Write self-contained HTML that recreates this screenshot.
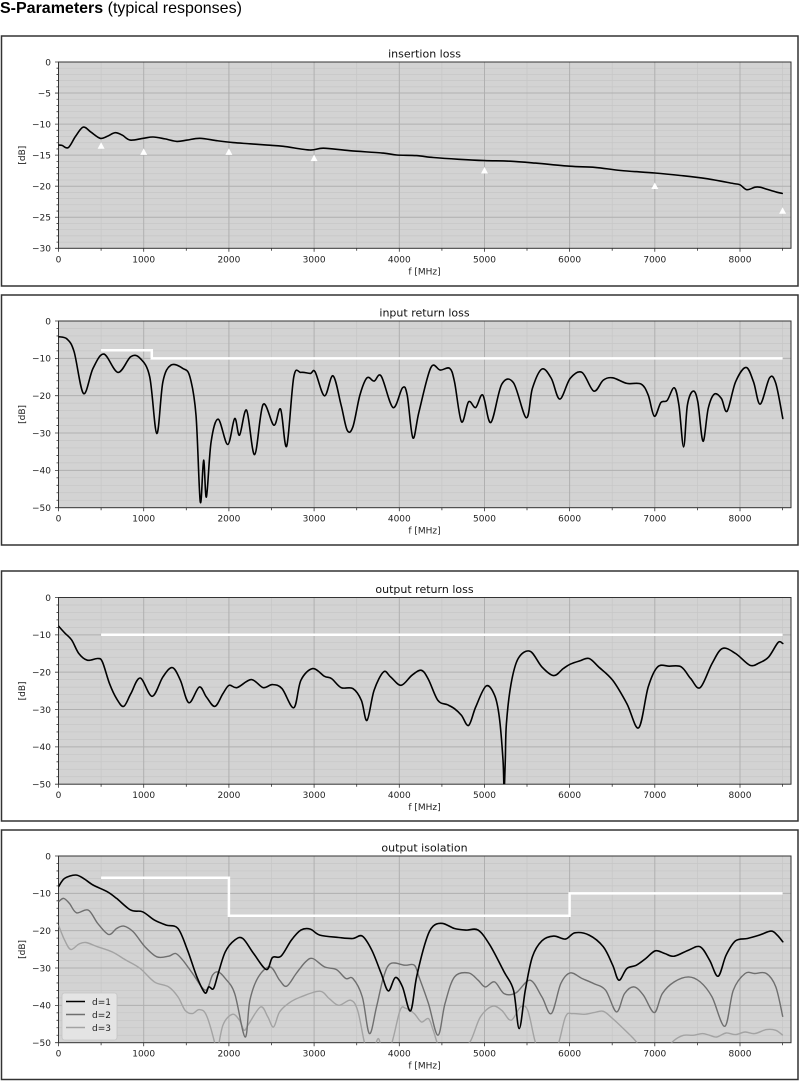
<!DOCTYPE html>
<html><head><meta charset="utf-8">
<style>
html,body{margin:0;padding:0;background:#fff;width:800px;height:1081px;overflow:hidden}
svg{display:block}
.t{font-family:"DejaVu Sans","Liberation Sans",sans-serif;font-size:9px;fill:#222}
.ti{font-family:"DejaVu Sans","Liberation Sans",sans-serif;font-size:11px;fill:#111}
.k{fill:none;stroke:#000;stroke-width:1.6;stroke-linejoin:round;stroke-linecap:round}
.w{fill:none;stroke:#fff;stroke-width:2.5}
.d2{fill:none;stroke:#6f6f6f;stroke-width:1.4;stroke-linejoin:round}
.d3{fill:none;stroke:#a3a3a3;stroke-width:1.4;stroke-linejoin:round}
</style></head>
<body>
<svg width="800" height="1081" viewBox="0 0 800 1081" xmlns="http://www.w3.org/2000/svg">
<defs>
<g id="G1">
<rect x="58.5" y="0" width="732.5" height="186.3" fill="#d3d3d3"/>
<path fill="none" stroke="#c6c6c6" stroke-width="0.7" d="M58.5 6.21H791M58.5 12.42H791M58.5 18.63H791M58.5 24.84H791M58.5 37.26H791M58.5 43.47H791M58.5 49.68H791M58.5 55.89H791M58.5 68.31H791M58.5 74.52H791M58.5 80.73H791M58.5 86.94H791M58.5 99.36H791M58.5 105.57H791M58.5 111.78H791M58.5 117.99H791M58.5 130.41H791M58.5 136.62H791M58.5 142.83H791M58.5 149.04H791M58.5 161.46H791M58.5 167.67H791M58.5 173.88H791M58.5 180.09H791M101.1 0V186.3M186.3 0V186.3M271.5 0V186.3M356.7 0V186.3M441.9 0V186.3M527 0V186.3M612.2 0V186.3M697.4 0V186.3M782.6 0V186.3"/>
<path fill="none" stroke="#b0b0b0" stroke-width="1" d="M58.5 31.05H791M58.5 62.1H791M58.5 93.15H791M58.5 124.2H791M58.5 155.25H791M143.7 0V186.3M228.9 0V186.3M314.1 0V186.3M399.3 0V186.3M484.5 0V186.3M569.6 0V186.3M654.8 0V186.3M740 0V186.3"/>
<rect x="58.5" y="0" width="732.5" height="186.3" fill="none" stroke="#333" stroke-width="1"/>
<path fill="none" stroke="#333" stroke-width="0.8" d="M55 0H58.5M55 31.05H58.5M55 62.1H58.5M55 93.15H58.5M55 124.2H58.5M55 155.25H58.5M55 186.3H58.5M56.5 6.21H58.5M56.5 12.42H58.5M56.5 18.63H58.5M56.5 24.84H58.5M56.5 37.26H58.5M56.5 43.47H58.5M56.5 49.68H58.5M56.5 55.89H58.5M56.5 68.31H58.5M56.5 74.52H58.5M56.5 80.73H58.5M56.5 86.94H58.5M56.5 99.36H58.5M56.5 105.57H58.5M56.5 111.78H58.5M56.5 117.99H58.5M56.5 130.41H58.5M56.5 136.62H58.5M56.5 142.83H58.5M56.5 149.04H58.5M56.5 161.46H58.5M56.5 167.67H58.5M56.5 173.88H58.5M56.5 180.09H58.5M58.5 186.3v3.5M143.7 186.3v3.5M228.9 186.3v3.5M314.1 186.3v3.5M399.3 186.3v3.5M484.5 186.3v3.5M569.6 186.3v3.5M654.8 186.3v3.5M740 186.3v3.5M101.1 186.3v2.5M186.3 186.3v2.5M271.5 186.3v2.5M356.7 186.3v2.5M441.9 186.3v2.5M527 186.3v2.5M612.2 186.3v2.5M697.4 186.3v2.5M782.6 186.3v2.5"/>
</g>
<g id="G2">
<rect x="58.5" y="0" width="732.5" height="186.7" fill="#d3d3d3"/>
<path fill="none" stroke="#c6c6c6" stroke-width="0.7" d="M58.5 7.47H791M58.5 14.94H791M58.5 22.4H791M58.5 29.87H791M58.5 44.81H791M58.5 52.28H791M58.5 59.74H791M58.5 67.21H791M58.5 82.15H791M58.5 89.62H791M58.5 97.08H791M58.5 104.55H791M58.5 119.49H791M58.5 126.96H791M58.5 134.42H791M58.5 141.89H791M58.5 156.83H791M58.5 164.3H791M58.5 171.76H791M58.5 179.23H791M101.1 0V186.7M186.3 0V186.7M271.5 0V186.7M356.7 0V186.7M441.9 0V186.7M527 0V186.7M612.2 0V186.7M697.4 0V186.7M782.6 0V186.7"/>
<path fill="none" stroke="#b0b0b0" stroke-width="1" d="M58.5 37.34H791M58.5 74.68H791M58.5 112.02H791M58.5 149.36H791M143.7 0V186.7M228.9 0V186.7M314.1 0V186.7M399.3 0V186.7M484.5 0V186.7M569.6 0V186.7M654.8 0V186.7M740 0V186.7"/>
<rect x="58.5" y="0" width="732.5" height="186.7" fill="none" stroke="#333" stroke-width="1"/>
<path fill="none" stroke="#333" stroke-width="0.8" d="M55 0H58.5M55 37.34H58.5M55 74.68H58.5M55 112.02H58.5M55 149.36H58.5M55 186.7H58.5M56.5 7.47H58.5M56.5 14.94H58.5M56.5 22.4H58.5M56.5 29.87H58.5M56.5 44.81H58.5M56.5 52.28H58.5M56.5 59.74H58.5M56.5 67.21H58.5M56.5 82.15H58.5M56.5 89.62H58.5M56.5 97.08H58.5M56.5 104.55H58.5M56.5 119.49H58.5M56.5 126.96H58.5M56.5 134.42H58.5M56.5 141.89H58.5M56.5 156.83H58.5M56.5 164.3H58.5M56.5 171.76H58.5M56.5 179.23H58.5M58.5 186.7v3.5M143.7 186.7v3.5M228.9 186.7v3.5M314.1 186.7v3.5M399.3 186.7v3.5M484.5 186.7v3.5M569.6 186.7v3.5M654.8 186.7v3.5M740 186.7v3.5M101.1 186.7v2.5M186.3 186.7v2.5M271.5 186.7v2.5M356.7 186.7v2.5M441.9 186.7v2.5M527 186.7v2.5M612.2 186.7v2.5M697.4 186.7v2.5M782.6 186.7v2.5"/>
</g>
<clipPath id="c1"><rect x="58.5" y="62" width="732.5" height="186.3"/></clipPath>
<clipPath id="c2"><rect x="58.5" y="321" width="732.5" height="186.7"/></clipPath>
<clipPath id="c3"><rect x="58.5" y="597.5" width="732.5" height="186.7"/></clipPath>
<clipPath id="c4"><rect x="58.5" y="856" width="732.5" height="186.7"/></clipPath>
</defs>

<!-- Page title -->
<text x="0" y="13" font-family="'Liberation Sans',Arial,sans-serif" font-size="16" fill="#000"><tspan font-weight="bold">S-Parameters</tspan> (typical responses)</text>

<!-- Panel boxes -->
<rect x="1.5" y="36" width="796.5" height="250" fill="none" stroke="#333" stroke-width="1.5"/>
<rect x="1.5" y="295" width="796.5" height="250" fill="none" stroke="#333" stroke-width="1.5"/>
<rect x="1.5" y="571" width="796.5" height="250" fill="none" stroke="#333" stroke-width="1.5"/>
<rect x="1.5" y="830" width="796.5" height="249.5" fill="none" stroke="#333" stroke-width="1.5"/>

<!-- ===== Panel 1: insertion loss ===== -->
<use href="#G1" transform="translate(0,62)"/>
<text class="ti" x="424.5" y="57.5" text-anchor="middle">insertion loss</text>
<g class="t" text-anchor="end">
<text x="51" y="65.3">0</text>
<text x="51" y="96.4">−5</text>
<text x="51" y="127.4">−10</text>
<text x="51" y="158.5">−15</text>
<text x="51" y="189.5">−20</text>
<text x="51" y="220.6">−25</text>
<text x="51" y="251.6">−30</text>
</g>
<g class="t" text-anchor="middle">
<text x="58.5" y="262.3">0</text><text x="143.7" y="262.3">1000</text><text x="228.9" y="262.3">2000</text><text x="314.1" y="262.3">3000</text><text x="399.3" y="262.3">4000</text><text x="484.5" y="262.3">5000</text><text x="569.6" y="262.3">6000</text><text x="654.8" y="262.3">7000</text><text x="740" y="262.3">8000</text>
<text x="424.5" y="274.3">f [MHz]</text>
<text transform="translate(25,155.2) rotate(-90)">[dB]</text>
</g>
<g clip-path="url(#c1)">
<polyline class="k s" points="58.5,145.1 62,145.4 68.3,147.6 75.5,136.4 83.2,127.1 90.9,132.1 100.2,138.3 107.1,136.4 115.2,132.7 122.4,135.2 130.1,140.1 143.3,138.3 153.1,137.0 165.0,138.9 176.9,141.4 187.1,140.1 199.9,138.3 217.0,140.7 233.1,142.6 250.2,143.8 267.2,145.1 283.4,146.3 309.8,150.0 323.4,148.2 349.8,150.7 383.1,153.1 396.7,155.0 416.3,155.6 433.3,157.5 458.9,159.3 484.5,160.6 510.0,161.2 535.6,163.1 569.6,166.2 595.2,167.4 620.8,170.5 654.8,173.0 680.4,175.5 706.0,178.6 733.2,183.5 740.0,184.8 746.8,189.7 754.9,187.2 760.0,187.2 766.4,189.1 776.7,192.2 782.2,193.4"/>
<g fill="#fff">
<polygon points="97.6,148.7 104.6,148.7 101.1,142.2"/>
<polygon points="140.2,154.9 147.2,154.9 143.7,148.4"/>
<polygon points="225.4,154.9 232.4,154.9 228.9,148.4"/>
<polygon points="310.6,161.1 317.6,161.1 314.1,154.6"/>
<polygon points="481,173.5 488,173.5 484.5,167"/>
<polygon points="651.3,189 658.3,189 654.8,182.5"/>
<polygon points="779.1,213.8 786.1,213.8 782.6,207.3"/>
</g>
</g>

<!-- ===== Panel 2: input return loss ===== -->
<use href="#G2" transform="translate(0,321)"/>
<text class="ti" x="424.5" y="316.5" text-anchor="middle">input return loss</text>
<g class="t" text-anchor="end">
<text x="51" y="324.3">0</text>
<text x="51" y="361.6">−10</text>
<text x="51" y="399">−20</text>
<text x="51" y="436.3">−30</text>
<text x="51" y="473.7">−40</text>
<text x="51" y="511">−50</text>
</g>
<g class="t" text-anchor="middle">
<text x="58.5" y="521.7">0</text><text x="143.7" y="521.7">1000</text><text x="228.9" y="521.7">2000</text><text x="314.1" y="521.7">3000</text><text x="399.3" y="521.7">4000</text><text x="484.5" y="521.7">5000</text><text x="569.6" y="521.7">6000</text><text x="654.8" y="521.7">7000</text><text x="740" y="521.7">8000</text>
<text x="424.5" y="533.7">f [MHz]</text>
<text transform="translate(25,414.4) rotate(-90)">[dB]</text>
</g>
<g clip-path="url(#c2)">
<polyline class="k s" points="58.5,336.7 67.0,339.0 74.1,351.7 83.5,393.5 93.0,368.4 103.9,354.1 118.0,372.4 130.8,356.7 140.2,358.4 149.7,376.8 156.8,433.5 162.9,381.8 171.0,365.1 182.8,368.4 189.9,376.8 196.0,415.2 200.3,502.0 203.6,460.2 206.4,497.0 211.1,441.9 218.2,419.2 227.7,444.5 234.7,418.5 239.5,435.2 246.6,410.2 254.6,454.6 263.1,404.5 273.9,425.2 280.6,409.2 286.7,446.2 293.8,376.8 300.9,372.4 310.3,373.4 315.1,371.8 324.5,395.8 333.0,375.8 341.1,405.1 347.2,430.2 352.9,426.8 359.9,395.1 367.0,377.8 374.1,381.1 381.2,376.1 393.0,407.5 402.5,387.8 407.2,395.1 412.9,437.9 419.0,411.8 430.8,367.7 440.3,370.1 449.7,368.4 454.5,381.8 461.5,421.8 468.6,401.8 475.7,407.5 482.8,395.1 490.8,422.5 501.7,384.4 513.5,382.8 526.3,417.8 532.4,388.4 541.9,369.1 551.3,378.4 559.8,399.1 570.2,378.4 582.0,372.4 593.8,391.1 603.3,380.1 612.7,377.8 626.9,383.4 641.1,384.1 648.2,395.1 654.3,416.2 660.9,402.5 667.1,400.5 674.2,387.8 678.9,405.1 683.6,446.9 687.4,405.1 693.1,391.1 697.8,401.8 703.0,441.2 708.2,408.5 714.3,394.1 721.4,398.5 727.1,411.2 735.6,381.8 746.0,367.4 753.5,381.8 760.2,404.1 769.6,377.8 775.8,383.4 782.8,418.5"/>
<polyline class="w" points="101.1,350.2 151.8,350.2 151.8,358.4 782.6,358.4"/>
</g>

<!-- ===== Panel 3: output return loss ===== -->
<use href="#G2" transform="translate(0,597.5)"/>
<text class="ti" x="424.5" y="593" text-anchor="middle">output return loss</text>
<g class="t" text-anchor="end">
<text x="51" y="600.8">0</text>
<text x="51" y="638.1">−10</text>
<text x="51" y="675.5">−20</text>
<text x="51" y="712.8">−30</text>
<text x="51" y="750.2">−40</text>
<text x="51" y="787.5">−50</text>
</g>
<g class="t" text-anchor="middle">
<text x="58.5" y="798.2">0</text><text x="143.7" y="798.2">1000</text><text x="228.9" y="798.2">2000</text><text x="314.1" y="798.2">3000</text><text x="399.3" y="798.2">4000</text><text x="484.5" y="798.2">5000</text><text x="569.6" y="798.2">6000</text><text x="654.8" y="798.2">7000</text><text x="740" y="798.2">8000</text>
<text x="424.5" y="810.2">f [MHz]</text>
<text transform="translate(25,690.9) rotate(-90)">[dB]</text>
</g>
<g clip-path="url(#c3)">
<polyline class="k s" points="58.5,626.1 64.6,632.8 71.7,640.1 78.8,653.5 87.3,660.2 97.7,658.5 102.4,661.9 109.5,683.6 116.6,698.7 123.7,706.4 130.8,693.7 140.2,678.0 152.1,696.3 162.9,676.9 172.4,667.6 180.4,680.3 188.9,702.7 199.3,687.0 206.4,697.0 214.9,706.4 222.9,693.7 229.1,685.3 237.1,687.6 251.3,679.6 263.1,687.6 272.5,684.6 282.0,688.6 293.8,707.7 300.9,680.3 312.7,668.6 324.5,676.3 331.6,678.6 341.1,687.6 352.9,688.6 361.4,700.4 367.0,720.4 374.1,690.3 383.6,671.9 390.7,677.0 401.1,685.3 411.9,675.3 421.4,670.3 428.5,679.6 437.9,700.4 447.4,704.7 454.5,708.7 461.5,715.4 468.6,725.4 475.7,707.0 486.1,686.0 494.6,695.3 499.3,717.1 503.0,760 504.1,790 505.3,760 506.4,723.8 511.1,683.6 518.2,658.5 530.0,651.2 541.9,666.9 553.7,675.6 563.2,668.6 570.2,664.2 579.7,660.9 589.1,658.5 598.6,666.9 612.7,680.3 626.9,703.7 638.7,727.8 648.2,687.0 657.6,666.9 669.4,666.2 681.3,666.9 690.7,678.6 700.2,687.6 712.0,663.6 722.4,648.5 735.6,653.5 749.8,665.2 759.3,662.9 768.7,656.9 778.1,642.5 782.8,643.5"/>
<polyline class="w" points="101.1,634.8 782.6,634.8"/>
</g>

<!-- ===== Panel 4: output isolation ===== -->
<use href="#G2" transform="translate(0,856)"/>
<text class="ti" x="424.5" y="851.5" text-anchor="middle">output isolation</text>
<g class="t" text-anchor="end">
<text x="51" y="859.3">0</text>
<text x="51" y="896.6">−10</text>
<text x="51" y="934">−20</text>
<text x="51" y="971.3">−30</text>
<text x="51" y="1008.7">−40</text>
<text x="51" y="1046">−50</text>
</g>
<g class="t" text-anchor="middle">
<text x="58.5" y="1056.7">0</text><text x="143.7" y="1056.7">1000</text><text x="228.9" y="1056.7">2000</text><text x="314.1" y="1056.7">3000</text><text x="399.3" y="1056.7">4000</text><text x="484.5" y="1056.7">5000</text><text x="569.6" y="1056.7">6000</text><text x="654.8" y="1056.7">7000</text><text x="740" y="1056.7">8000</text>
<text x="424.5" y="1068.7">f [MHz]</text>
<text transform="translate(25,949.4) rotate(-90)">[dB]</text>
</g>
<g clip-path="url(#c4)">
<polyline class="d3 s" points="58.5,925.1 64.6,940.1 70.8,949.5 78.8,944.1 85.9,942.5 97.7,946.8 111.9,951.8 126.1,960.2 140.2,968.5 154.4,981.9 168.6,986.9 178.0,996.9 185.1,1010.3 192.2,1013.6 199.3,1009.6 206.4,1015.3 214.9,1043.7 216.5,1056 222.9,1025.3 232.4,1014.3 239.5,1020.3 244.2,1030.3 248.9,1023.6 260.7,1006.9 267.8,1016.9 273.5,1027.0 279.6,1011.9 289.1,1002.9 300.9,996.9 319.8,991.2 329.2,998.6 338.7,1005.3 350.5,1000.2 357.6,1010.3 364.7,1043.7 370.5,1060 378.2,1038.6 383.6,1057 391.6,1043.7 400.1,1010.3 405.8,1008.3 414.3,1013.6 421.4,1022.0 428.5,1018.6 433.2,1030.3 440.3,1050.3 452,1062 461.5,1052 470.9,1040.3 480.4,1016.9 492.2,1006.3 501.7,1010.3 511.1,1020.3 520.6,1006.9 527.7,1010.3 534.8,1040.3 541.9,1063 556.1,1050.3 565.5,1016.9 572.6,1013.6 584.4,1014.3 593.8,1012.6 603.3,1011.3 612.7,1018.6 626.9,1032.0 636.4,1042.0 650.5,1063 664.7,1050.3 674.2,1040.3 683.6,1035.3 693.1,1035.3 702.5,1033.6 709.6,1035.3 716.7,1037.0 726.1,1033.0 735.6,1034.6 745.1,1032.0 754.6,1033.6 766.4,1029.6 775.8,1030.3 782.8,1035.3"/>
<polyline class="d2 s" points="58.5,901.7 63.7,898.4 69.4,903.4 76.5,912.8 88.3,910.1 97.7,923.4 108.6,934.5 116.6,928.5 123.7,926.1 133.2,931.8 145.0,946.8 156.8,956.8 168.6,956.2 175.7,953.5 182.8,960.2 192.2,972.9 205.4,990.2 212.5,975.2 218.2,971.9 225.3,978.5 234.7,993.6 245.1,1037.0 249.9,1000.2 258.4,976.9 270.2,966.9 279.6,980.2 286.7,986.2 296.2,973.5 305.6,961.8 312.7,958.5 324.5,966.9 336.3,969.5 345.8,978.5 352.9,978.5 362.3,996.9 369.4,1033.6 376.5,1006.9 383.6,976.9 390.7,963.5 404.8,965.2 414.3,965.2 419.0,976.9 428.5,1003.6 437.9,1035.3 445.0,1003.6 454.5,976.9 468.6,972.9 478.1,980.2 485.2,986.9 494.6,981.9 504.1,993.6 515.9,992.9 530.0,980.2 541.9,996.9 551.3,1013.6 560.8,983.6 570.2,972.9 582.0,978.5 593.8,983.6 605.6,990.2 616.5,1011.9 624.5,993.6 634.0,986.9 643.4,995.2 654.3,1012.6 662.3,993.6 674.2,981.9 688.4,976.9 700.2,981.9 712.0,996.9 724.8,1026.3 733.3,990.2 745.1,973.5 754.6,973.5 766.4,973.5 775.8,986.9 782.8,1016.9"/>
<polyline class="k s" points="58.5,886.7 64.6,878.4 75.5,875.0 83.5,878.4 93.0,885.0 107.2,891.7 116.6,898.4 130.8,910.1 142.6,911.8 154.4,920.1 166.2,925.1 178.0,928.5 187.5,950.2 196.9,976.9 205.0,992.9 208.8,986.9 213.5,988.6 218.2,973.5 225.3,951.8 234.7,940.1 242.8,938.5 253.6,953.5 266.4,969.5 272.5,957.5 281.0,956.2 291.4,940.1 300.9,930.1 310.3,929.1 319.8,935.1 338.7,937.5 352.9,938.5 362.3,936.1 371.8,950.2 381.2,973.5 388.3,990.9 395.4,977.5 402.5,986.9 410.5,1010.9 416.6,976.9 426.1,940.1 433.2,926.1 442.6,923.4 454.5,928.5 466.3,930.1 478.1,930.1 489.9,945.1 504.1,971.9 513.5,990.2 519.2,1028.6 525.3,990.2 532.4,956.8 541.9,940.8 553.7,936.1 565.5,939.1 574.9,932.8 589.1,935.1 603.3,946.8 612.7,965.2 618.9,980.2 626.9,968.5 636.4,965.2 645.8,958.5 655.3,950.8 664.7,953.5 674.2,956.2 688.4,950.2 700.2,946.8 709.6,960.2 718.1,976.2 726.1,955.2 735.6,940.8 747.4,938.5 759.3,935.1 771.1,931.1 777.2,935.1 782.8,941.8"/>
<polyline class="w" points="101.1,877.7 228.9,877.7 228.9,915.8 569.6,915.8 569.6,893.4 782.6,893.4"/>
</g>
<!-- legend -->
<rect x="62" y="993" width="55" height="47" rx="2.5" fill="#e4e4e4" stroke="#c4c4c4" stroke-width="0.8"/>
<line x1="66" y1="1001.5" x2="85" y2="1001.5" stroke="#000" stroke-width="1.6"/>
<line x1="66" y1="1014.5" x2="85" y2="1014.5" stroke="#6f6f6f" stroke-width="1.4"/>
<line x1="66" y1="1027.5" x2="85" y2="1027.5" stroke="#a3a3a3" stroke-width="1.4"/>
<text class="t" x="92" y="1004.8">d=1</text>
<text class="t" x="92" y="1017.8">d=2</text>
<text class="t" x="92" y="1030.8">d=3</text>
</svg>
<script>
(function(){
var NS='http://www.w3.org/2000/svg';
var pls=document.querySelectorAll('polyline.s');
for(var n=0;n<pls.length;n++){
 var pl=pls[n];
 var raw=pl.getAttribute('points').trim().split(/\s+/);
 var p=[];
 for(var i=0;i<raw.length;i++){var a=raw[i].split(',');p.push([+a[0],+a[1]]);}
 var d='M'+p[0][0]+' '+p[0][1];
 for(var i=0;i<p.length-1;i++){
  var p0=p[i-1]||p[i],p1=p[i],p2=p[i+1],p3=p[i+2]||p[i+1];
  var c1x=p1[0]+(p2[0]-p0[0])/6,c1y=p1[1]+(p2[1]-p0[1])/6;
  var c2x=p2[0]-(p3[0]-p1[0])/6,c2y=p2[1]-(p3[1]-p1[1])/6;
  if(c1x>p2[0])c1x=p2[0]; if(c1x<p1[0])c1x=p1[0];
  if(c2x<p1[0])c2x=p1[0]; if(c2x>p2[0])c2x=p2[0];
  d+='C'+c1x.toFixed(2)+' '+c1y.toFixed(2)+' '+c2x.toFixed(2)+' '+c2y.toFixed(2)+' '+p2[0]+' '+p2[1];
 }
 var path=document.createElementNS(NS,'path');
 path.setAttribute('d',d);
 path.setAttribute('class',pl.getAttribute('class'));
 pl.parentNode.replaceChild(path,pl);
}
})();
</script>
</body></html>
